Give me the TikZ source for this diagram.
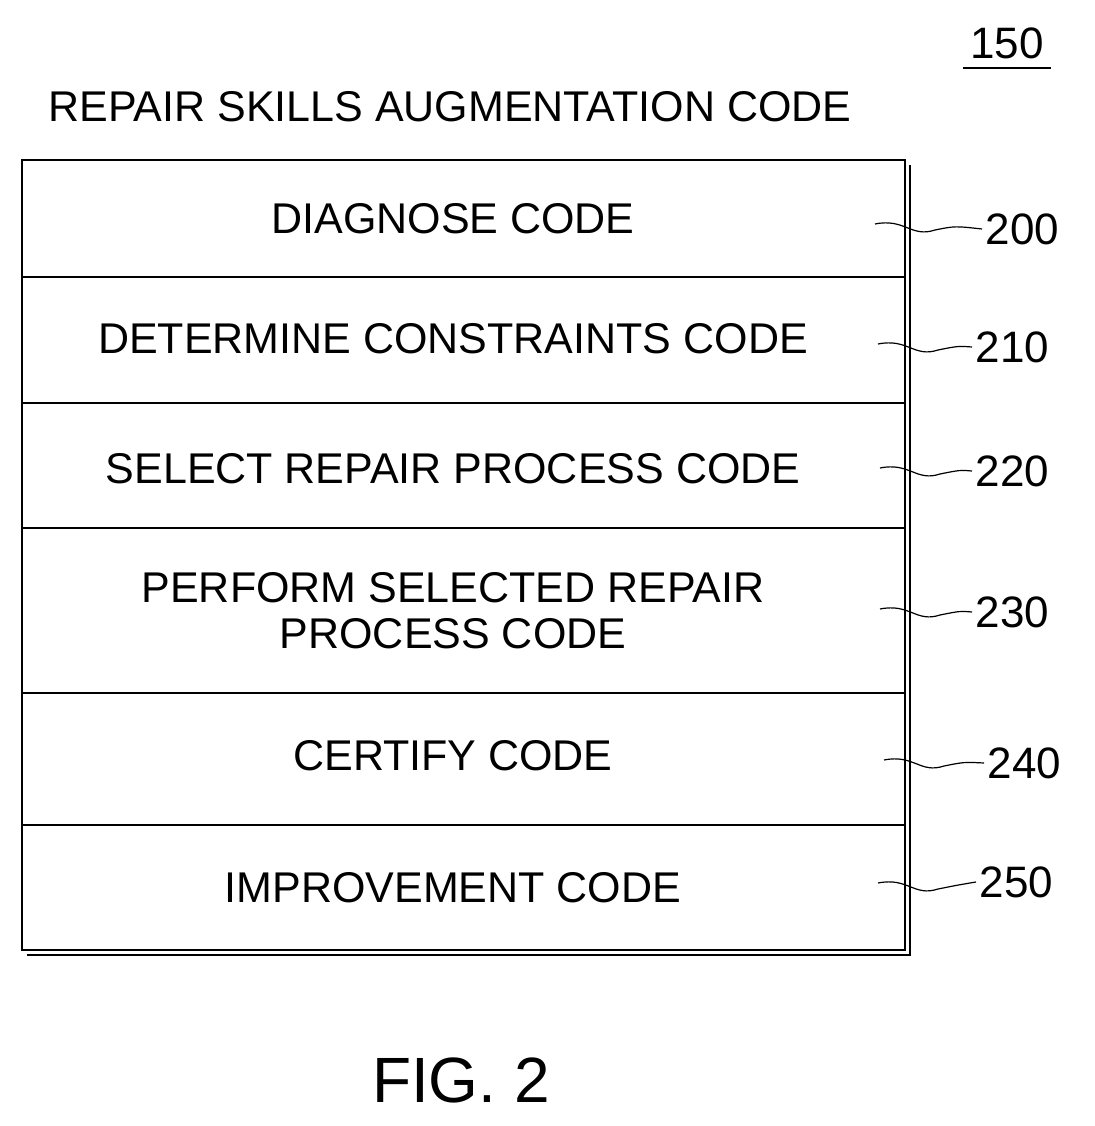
\documentclass[tikz,border=0pt]{standalone}
\usepackage{fontspec}
\setmainfont{Liberation Sans}
\usetikzlibrary{positioning,calc}
\tikzset{
  row/.style={font=\fontsize{43}{46}\selectfont, align=center},
  refnum/.style={font=\fontsize{44}{46}\selectfont, anchor=west},
  leader/.style={line width=1.2pt}
}
\newcommand{\squig}[2]{\draw[leader] (#1) .. controls ($(#1)+(30,-6)$) and ($(#1)+(36,14)$) .. ($(#1)+(60,6)$) .. controls ($(#1)+(80,2)$) .. (#2.west);}
\begin{document}
\begin{tikzpicture}[x=1pt,y=-1pt]
\useasboundingbox (0,0) rectangle (1094,1126);
% shadow and frame
\draw[line width=1.5pt] (27,955) -- (910,955) -- (910,165);
\draw[line width=1.5pt] (22,160) rectangle (905,950);
\foreach \yy in {277,403,528,693,825}
  \draw[line width=1.5pt] (22,\yy) -- (905,\yy);
% titles
\node[font=\fontsize{43}{46}\selectfont, anchor=west] (title) at (45,107) {REPAIR SKILLS AUGMENTATION CODE};
\node[font=\fontsize{44}{46}\selectfont] (fignum) at (1007,43) {150};
\draw[line width=2pt] (963,68) -- (1051,68);
\node[font=\fontsize{64}{66}\selectfont] (fig) at (461,1080) {FIG. 2};
% rows
\node[row] (diag) at (453,219) {DIAGNOSE CODE};
\node[row] (cons) at (453,339) {DETERMINE CONSTRAINTS CODE};
\node[row] (sel) at (453,469) {SELECT REPAIR PROCESS CODE};
\node[row] (perf) at (453,611) {PERFORM SELECTED REPAIR\\PROCESS CODE};
\node[row] (cert) at (453,756) {CERTIFY CODE};
\node[row] (impr) at (453,888) {IMPROVEMENT CODE};
% reference numerals
\node[refnum] (n200) at (982,229) {200};
\node[refnum] (n210) at (972,347) {210};
\node[refnum] (n220) at (972,471) {220};
\node[refnum] (n230) at (972,612) {230};
\node[refnum] (n240) at (984,763) {240};
\node[refnum] (n250) at (976,882) {250};
\coordinate (l200) at (875,224);
\coordinate (l210) at (878,344);
\coordinate (l220) at (880,468);
\coordinate (l230) at (880,609);
\coordinate (l240) at (884,760);
\coordinate (l250) at (878,883);
\foreach \k in {200,210,220,230,240,250}
  {\squig{l\k}{n\k}}
\end{tikzpicture}
\end{document}
